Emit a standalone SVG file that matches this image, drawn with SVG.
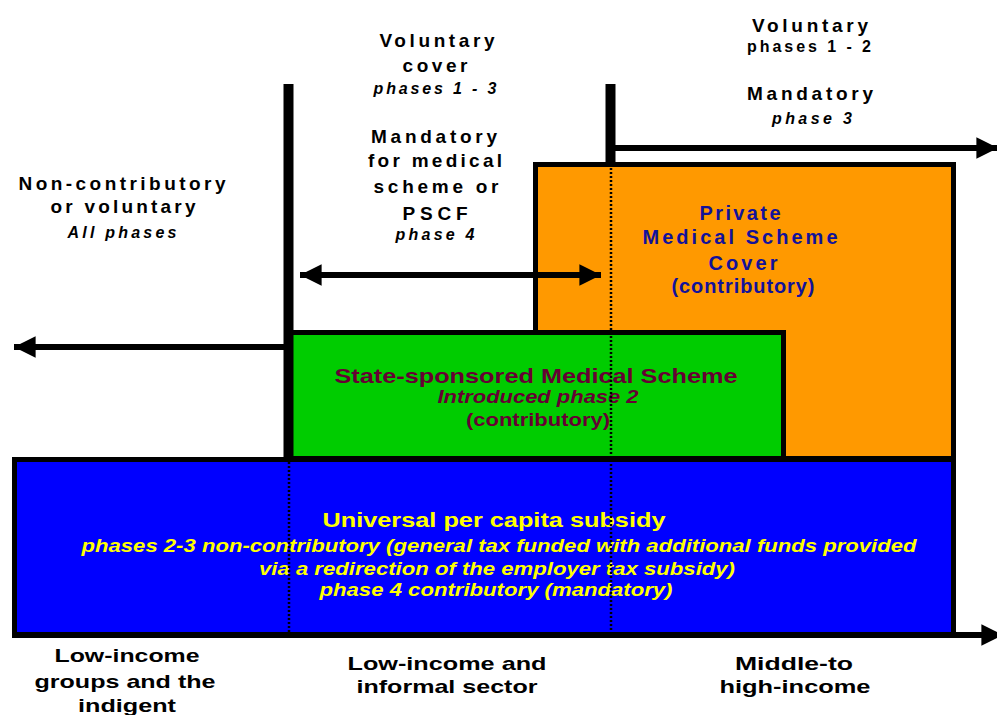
<svg xmlns="http://www.w3.org/2000/svg" width="997" height="715" viewBox="0 0 997 715">
<style>
text{font-family:"Liberation Sans",Arial,sans-serif;font-weight:bold;text-anchor:middle}
.blk{fill:#000;font-size:19px}
.it{font-style:italic;font-size:16px}
.sm{font-size:16px}
.nav{fill:#12129a;font-size:20px}
.mar{fill:#660033}
.yel{fill:#ffff00}
.box{stroke:#000;stroke-width:5}
.bar{stroke:#000;stroke-width:10;fill:none}
.arr{stroke:#000;stroke-width:6;fill:none}
.dot{stroke:#000;stroke-width:2.5;stroke-dasharray:2 2;fill:none}
</style>
<defs>
<marker id="ah" viewBox="0 0 10 10" refX="10" refY="5" markerWidth="4.5" markerHeight="3.6" orient="auto-start-reverse" markerUnits="strokeWidth">
<path d="M0,0 L10,5 L0,10 Z" fill="#000"/>
</marker>
</defs>
<g id="private-scheme">
<rect class="box" x="535.5" y="164.5" width="418" height="294" fill="#ff9900"/>
<text class="nav" x="740" y="220" textLength="81" lengthAdjust="spacing">Private</text>
<text class="nav" x="740" y="244" textLength="195" lengthAdjust="spacing">Medical Scheme</text>
<text class="nav" x="743" y="270" textLength="69" lengthAdjust="spacing">Cover</text>
<text class="nav sm" x="743" y="293" textLength="143" lengthAdjust="spacing">(contributory)</text>
</g>
<g id="state-scheme">
<rect class="box" x="290.5" y="332.5" width="493" height="126" fill="#00cc00"/>
<text class="mar" x="536" y="383" font-size="21" textLength="403" lengthAdjust="spacingAndGlyphs">State-sponsored Medical Scheme</text>
<text class="mar" x="538" y="403" font-size="18" font-style="italic" textLength="201" lengthAdjust="spacingAndGlyphs">Introduced phase 2</text>
<text class="mar" x="538" y="426" font-size="19" textLength="144" lengthAdjust="spacingAndGlyphs">(contributory)</text>
</g>
<g id="universal-subsidy">
<rect class="box" x="14.5" y="459.5" width="939" height="176" fill="#0000ff"/>
<text class="yel" x="494" y="527" font-size="20" textLength="343" lengthAdjust="spacingAndGlyphs">Universal per capita subsidy</text>
<text class="yel" x="499" y="552" font-size="18" font-style="italic" textLength="835" lengthAdjust="spacingAndGlyphs">phases 2-3 non-contributory (general tax funded with additional funds provided</text>
<text class="yel" x="497" y="575" font-size="18" font-style="italic" textLength="476" lengthAdjust="spacingAndGlyphs">via a redirection of the employer tax subsidy)</text>
<text class="yel" x="496" y="596" font-size="18" font-style="italic" textLength="353" lengthAdjust="spacingAndGlyphs">phase 4 contributory (mandatory)</text>
</g>
<g id="connectors">
<line class="dot" x1="611" y1="168" x2="611" y2="633"/>
<line class="dot" x1="289" y1="462" x2="289" y2="633"/>
<line class="bar" x1="288.5" y1="84" x2="288.5" y2="460"/>
<line class="bar" x1="610.5" y1="84" x2="610.5" y2="163"/>
<line class="arr" x1="615" y1="148" x2="998" y2="148" marker-end="url(#ah)"/>
<line class="arr" x1="300" y1="275" x2="601" y2="275" marker-start="url(#ah)" marker-end="url(#ah)"/>
<line class="arr" x1="290" y1="347" x2="14" y2="347" marker-end="url(#ah)"/>
<line class="arr" x1="12" y1="635" x2="1003" y2="635" marker-end="url(#ah)"/>
</g>
<g id="label-left">
<text class="blk" x="122" y="190" textLength="207" lengthAdjust="spacing">Non-contributory</text>
<text class="blk" x="123" y="213" textLength="145" lengthAdjust="spacing">or voluntary</text>
<text class="blk it" x="122" y="238" textLength="109" lengthAdjust="spacing">All phases</text>
</g>
<g id="label-middle">
<text class="blk" x="437" y="47" textLength="115" lengthAdjust="spacing">Voluntary</text>
<text class="blk" x="435" y="72" textLength="65" lengthAdjust="spacing">cover</text>
<text class="blk it" x="435" y="94" textLength="123" lengthAdjust="spacing">phases 1 - 3</text>
<text class="blk" x="434" y="143" textLength="126" lengthAdjust="spacing">Mandatory</text>
<text class="blk" x="435" y="167" textLength="134" lengthAdjust="spacing">for medical</text>
<text class="blk" x="436" y="193" textLength="125" lengthAdjust="spacing">scheme or</text>
<text class="blk" x="435" y="220" textLength="65" lengthAdjust="spacing">PSCF</text>
<text class="blk it" x="435" y="240" textLength="79" lengthAdjust="spacing">phase 4</text>
</g>
<g id="label-right">
<text class="blk" x="810" y="32" textLength="116" lengthAdjust="spacing">Voluntary</text>
<text class="blk sm" x="809" y="52" textLength="124" lengthAdjust="spacing">phases 1 - 2</text>
<text class="blk" x="810" y="100" textLength="126" lengthAdjust="spacing">Mandatory</text>
<text class="blk it" x="812" y="124" textLength="80" lengthAdjust="spacing">phase 3</text>
</g>
<g id="label-bottom">
<text class="blk" x="127" y="662" font-size="20" textLength="145" lengthAdjust="spacingAndGlyphs">Low-income</text>
<text class="blk" x="125" y="688" font-size="20" textLength="181" lengthAdjust="spacingAndGlyphs">groups and the</text>
<text class="blk" x="127" y="712" font-size="20" textLength="98" lengthAdjust="spacingAndGlyphs">indigent</text>
<text class="blk" x="447" y="670" font-size="20" textLength="199" lengthAdjust="spacingAndGlyphs">Low-income and</text>
<text class="blk" x="447" y="693" font-size="20" textLength="181" lengthAdjust="spacingAndGlyphs">informal sector</text>
<text class="blk" x="794" y="670" font-size="20" textLength="118" lengthAdjust="spacingAndGlyphs">Middle-to</text>
<text class="blk" x="795" y="693" font-size="20" textLength="151" lengthAdjust="spacingAndGlyphs">high-income</text>
</g>
</svg>
